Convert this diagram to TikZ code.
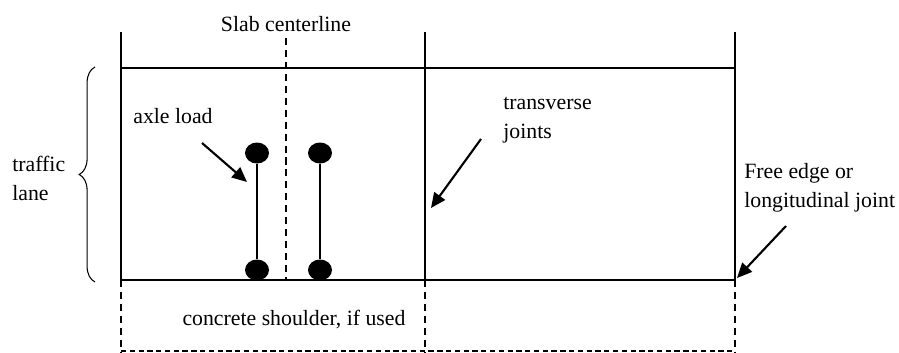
\documentclass[tikz,border=0pt]{standalone}
\usepackage{fontspec}
\setmainfont{Liberation Serif}
\usetikzlibrary{arrows.meta, shapes.geometric, decorations.pathreplacing}

\begin{document}
\begin{tikzpicture}[
    x=0.02cm, y=-0.02cm,
    lbl/.style={font=\fontsize{12.4}{16.5}\selectfont, inner sep=0pt, align=left},
    slab/.style={line width=1.3pt},
    shldr/.style={line width=1.3pt, dash pattern=on 4pt off 2.8pt},
    wheel/.style={ellipse, fill=black, inner sep=0pt, minimum width=0.48cm, minimum height=0.42cm},
    axle/.style={line width=1pt},
    arr/.style={-{Triangle[length=8.5pt, width=7.5pt]}, line width=1.2pt},
]
    \useasboundingbox (0,0) rectangle (899,352);

    % slab edges and joints
    \draw[slab] (121,68) -- (735,68);
    \draw[slab] (121,280) -- (735,280);
    \foreach \xj in {121,425,735} {
        \draw[slab] (\xj,32) -- (\xj,280);
        \draw[shldr] (\xj,280) -- (\xj,352);
    }
    \draw[line width=1.2pt, dash pattern=on 3pt off 2pt] (121,351) -- (735,351);
    \draw[shldr] (286,38) -- (286,280);

    \draw[decorate, decoration={brace, amplitude=9pt}, line width=0.6pt] (95,282) -- (95,67);

    % axles
    \foreach \xw/\nm in {257/a, 320/b} {
        \node[wheel] (\nm top) at (\xw,153) {};
        \node[wheel] (\nm bot) at (\xw,270) {};
        \draw[axle] (\nm top) -- (\nm bot);
    }

    \node[lbl, anchor=base] (cl) at (286,31) {Slab centerline};
    \node[lbl, anchor=base west] (ax) at (133,123) {axle load};
    \node[lbl, anchor=base west] (tl) at (12,200) {traffic\\lane};
    \node[lbl, anchor=base west] (tj) at (503,138) {transverse\\joints};
    \node[lbl, anchor=base west] (fe) at (744,207) {Free edge or\\longitudinal joint};
    \node[lbl, anchor=base] (sh) at (294,325) {concrete shoulder, if used};

    \coordinate (ax tail) at (202,143);
    \coordinate (ax tip) at (247,182);
    \coordinate (tj tail) at (481,139);
    \coordinate (tj tip) at (431,208);
    \coordinate (fe tail) at (786,226);
    \coordinate (fe tip) at (737,278);
    \draw[arr] (ax tail) -- (ax tip);
    \draw[arr] (tj tail) -- (tj tip);
    \draw[arr] (fe tail) -- (fe tip);
\end{tikzpicture}
\end{document}
